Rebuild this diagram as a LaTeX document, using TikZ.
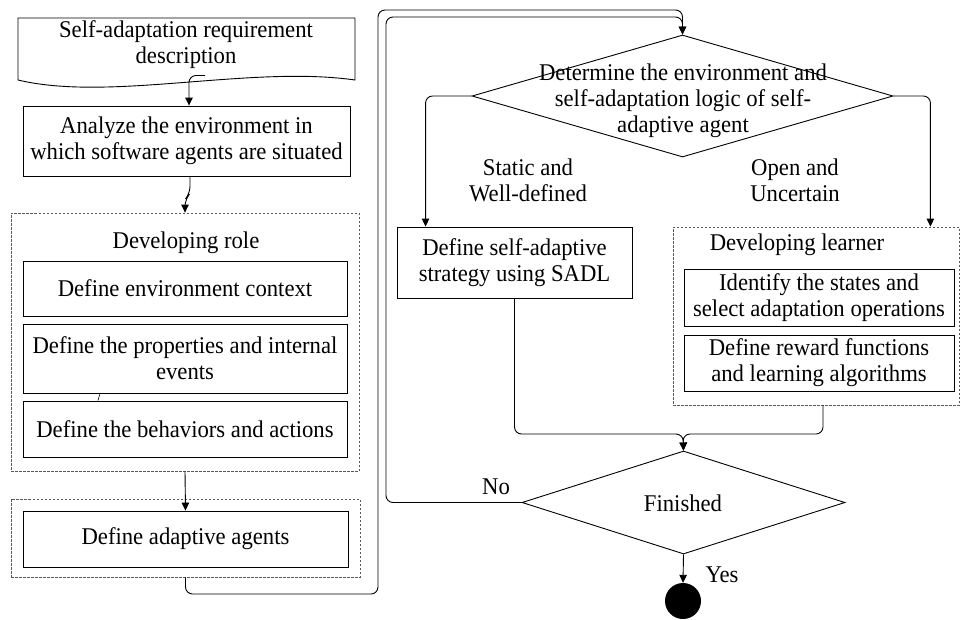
\documentclass[tikz,border=0pt]{standalone}
\usepackage{fontspec}
\setmainfont[FakeStretch=0.945]{Liberation Serif}
\usetikzlibrary{arrows.meta,shapes.geometric}

\tikzset{
  txt/.style={font=\fontsize{24pt}{26pt}\selectfont, align=center, inner sep=0pt},
  stepbox/.style={txt, draw, line width=0.9pt},
  groupbox/.style={draw=gray!70!black, line width=0.8pt, dash pattern=on 2.5pt off 1.5pt, inner sep=0pt},
  decision/.style={diamond, draw, line width=0.9pt, inner sep=0pt},
  flow/.style={line width=0.9pt, rounded corners=7pt},
  arr/.style={flow, -{Triangle[length=8pt,width=7.5pt]}},
  endstate/.style={circle, fill=black, inner sep=0pt, minimum size=36pt}
}

\begin{document}
\begin{tikzpicture}[x=1pt, y=-1pt]
\useasboundingbox (0,0) rectangle (963,619);

% requirement document (wavy lower edge)
\draw[line width=0.9pt] (18,80) -- (18,18) -- (355,18) -- (355,80)
  .. controls (250,65) and (110,102) .. (18,80);
\node[txt] (doc) at (186,45) {Self-adaptation requirement\\description};
\coordinate (docout) at (205,75.5);

% left column
\node[stepbox, minimum width=327pt, minimum height=70pt] (analyze) at (186.5,141)
  {Analyze the environment in\\which software agents are situated};

\node[groupbox, minimum width=348pt, minimum height=258pt] (role) at (185,342) {};
\node[txt] (roletitle) at (186,243) {Developing role};
\node[stepbox, minimum width=324pt, minimum height=55pt] (env) at (185,288.5)
  {Define environment context};
\node[stepbox, minimum width=324pt, minimum height=69pt] (props) at (185,358.5)
  {Define the properties and internal\\events};
\node[stepbox, minimum width=324pt, minimum height=56pt] (behav) at (185,429)
  {Define the behaviors and actions};

\node[groupbox, minimum width=349pt, minimum height=78pt] (agentsgrp) at (185.5,538) {};
\node[stepbox, minimum width=325pt, minimum height=56pt] (agents) at (185.5,539)
  {Define adaptive agents};

% right column
\node[decision, minimum width=421pt, minimum height=122pt] (d1) at (682.5,96) {};
\node[txt] (d1text) at (683,101)
  {Determine the environment and\\self-adaptation logic of self-\\adaptive agent};

\node[txt] (lblstatic) at (528,180) {Static and\\Well-defined};
\node[txt] (lblopen) at (795,180) {Open and\\Uncertain};

\node[stepbox, minimum width=235pt, minimum height=71pt] (sadl) at (514.5,262.5)
  {Define self-adaptive\\strategy using SADL};

\node[groupbox, minimum width=286pt, minimum height=178pt] (learner) at (816,316) {};
\node[txt] (learnertitle) at (797,245) {Developing learner};
\node[stepbox, minimum width=270pt, minimum height=57pt] (identify) at (819,297.5)
  {Identify the states and\\select adaptation operations};
\node[stepbox, minimum width=270pt, minimum height=56pt] (reward) at (819,363)
  {Define reward functions\\and learning algorithms};

\node[decision, minimum width=323pt, minimum height=103pt] (d2) at (683.5,502.5) {};
\node[txt] (d2text) at (683,503) {Finished};
\node[txt] (lblno) at (496,487) {No};
\node[txt] (lblyes) at (722,575) {Yes};

\node[endstate] (final) at (683,601) {};

% routing points
\coordinate (lpA) at (378,594);
\coordinate (lpB) at (378,10);
\coordinate (lpC) at (386,17);
\coordinate (join) at (683,434);

% connectors
\draw[arr] (docout) -| ([xshift=2.5pt]analyze.north);
\draw[arr] ([xshift=3.5pt]analyze.south) -- ++(0,17) -- ++(-5,6) -- (role.north);
\draw[line width=0.6pt] ([xshift=-85pt]props.south) -- ([xshift=-87pt]behav.north);
\draw[arr] (role.south) -- (agents.north);
\draw[arr] (agentsgrp.south) |- (lpA) -- (lpB) -| (d1.north);
\draw[arr] (d2.west) -| (lpC) -| (d1.north);
\draw[arr] (d1.west) -| ([xshift=29pt]sadl.north west);
\draw[arr] (d1.east) -| ([xshift=-29pt]learner.north east);
\draw[arr] (sadl.south) |- (join) -- (d2.north);
\draw[arr] ([xshift=7pt]learner.south) |- (join) -- (d2.north);
\draw[arr] (d2.south) -- (final.north);
\end{tikzpicture}
\end{document}
